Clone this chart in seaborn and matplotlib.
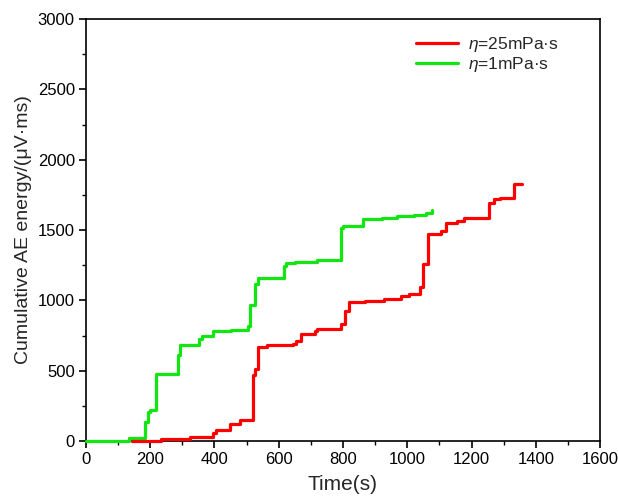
import matplotlib
matplotlib.use("Agg")
import matplotlib.pyplot as plt
from matplotlib.ticker import MultipleLocator
import seaborn as sns
import pandas as pd

# eta = 25 mPa·s (red)
t_25 = [142, 235, 323, 395, 405, 448, 479, 520, 525, 536, 562, 644, 655, 670, 712, 720,
        793, 807, 820, 870, 927, 979, 1005, 1039, 1050, 1064, 1104, 1119, 1156, 1176,
        1254, 1270, 1290, 1332, 1358]
e_25 = [0, 12, 31, 54, 78, 120, 149, 467, 514, 667, 679, 691, 714, 762, 785, 797,
        832, 927, 990, 997, 1009, 1028, 1045, 1092, 1257, 1469, 1493, 1547, 1563, 1587,
        1693, 1721, 1728, 1830, 1830]

# eta = 1 mPa·s (green)
t_1 = [0, 133, 183, 192, 200, 219, 287, 292, 352, 362, 394, 450, 505, 512, 525, 536,
       615, 624, 650, 720, 793, 800, 862, 922, 969, 1021, 1057, 1078]
e_1 = [0, 19, 132, 203, 219, 474, 608, 686, 726, 750, 785, 792, 821, 969, 1115, 1158,
       1245, 1262, 1269, 1285, 1516, 1528, 1575, 1585, 1599, 1610, 1622, 1639]

labels = [r"$\eta$=25mPa·s", r"$\eta$=1mPa·s"]
colors = ["#ff0000", "#11e611"]

sns.set_theme(style="white")
plt.rcParams["font.family"] = ["Liberation Sans", "DejaVu Sans"]
plt.rcParams["mathtext.fontset"] = "custom"
plt.rcParams["mathtext.it"] = "Liberation Sans:italic"
plt.rcParams["mathtext.rm"] = "Liberation Sans"

fig = plt.figure(figsize=(6.18, 5.0), dpi=100)
ax = fig.add_axes([0.139, 0.118, 0.832, 0.844])

df25 = pd.DataFrame({"t": t_25, "e": e_25})
df1 = pd.DataFrame({"t": t_1, "e": e_1})
sns.lineplot(data=df1, x="t", y="e", ax=ax, color=colors[1], lw=2.3, zorder=3, clip_on=False,
             drawstyle="steps-post", estimator=None, sort=False, label=labels[1])
sns.lineplot(data=df25, x="t", y="e", ax=ax, color=colors[0], lw=2.3, zorder=3.1, clip_on=False,
             drawstyle="steps-post", estimator=None, sort=False, label=labels[0])

ax.set_xlim(0, 1600)
ax.set_ylim(0, 3000)
ax.xaxis.set_major_locator(MultipleLocator(200))
ax.xaxis.set_minor_locator(MultipleLocator(100))
ax.yaxis.set_major_locator(MultipleLocator(500))
ax.yaxis.set_minor_locator(MultipleLocator(250))
ax.tick_params(which="major", direction="out", length=5, width=1.2, labelsize=12,
               bottom=True, left=True, top=False, right=False, colors="black", pad=3)
ax.tick_params(which="minor", direction="out", length=3, width=1.0,
               bottom=True, left=True, top=False, right=False, colors="black")
for s in ax.spines.values():
    s.set_color("black")
    s.set_linewidth(1.2)

ax.set_xlabel("Time(s)", fontsize=15, labelpad=6)
ax.set_ylabel("Cumulative AE energy/(μV·ms)", fontsize=14, labelpad=4)

handles, labs = ax.get_legend_handles_labels()
order = [labs.index(l) for l in labels]
ax.legend([handles[i] for i in order], [labs[i] for i in order],
          loc="upper right", frameon=False, fontsize=12.5, handlelength=2.4,
          bbox_to_anchor=(0.95, 1.0), labelspacing=0.1, handletextpad=0.6)

fig.savefig("out.png", dpi=100)
